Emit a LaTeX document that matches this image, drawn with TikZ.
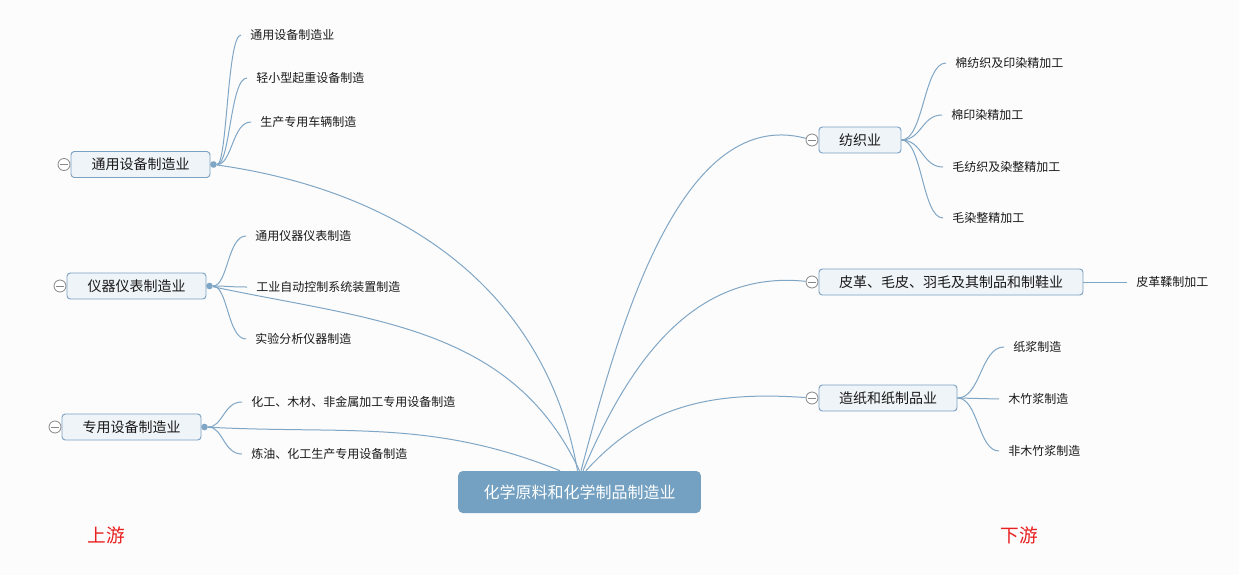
\documentclass[tikz,border=0pt]{standalone}
\usepackage{fontspec}
\usepackage{xcolor}
\usepackage{tikz}
\usetikzlibrary{arrows,calc,positioning,backgrounds}
\newfontfamily\cjk{Noto Sans CJK SC}
\definecolor{linkblue}{RGB}{128,166,198}
\definecolor{hubblue}{RGB}{116,161,193}
\definecolor{topicfill}{RGB}{239,244,248}
\definecolor{topicline}{RGB}{122,161,194}
\definecolor{foldgray}{RGB}{135,135,135}
\definecolor{paper}{RGB}{252,252,252}
\definecolor{streamred}{RGB}{232,32,32}
\tikzset{
  hubbox/.style={fill=hubblue, text=white, rounded corners=3.5pt, minimum width=182pt, minimum height=31.5pt, font=\cjk\fontsize{12}{12}\selectfont},
  topic/.style={draw=topicline, fill=topicfill, rounded corners=2.5pt, minimum height=19.5pt, line width=0.7pt, text=black!90, font=\cjk\fontsize{10.5}{10.5}\selectfont},
  leaf/.style={anchor=west, inner xsep=6.75pt, inner ysep=2pt, text=black!90, font=\cjk\fontsize{9}{9}\selectfont},
  branch/.style={draw=linkblue, line width=0.75pt},
  fold/.style={circle, draw=foldgray, fill=white, line width=0.6pt, minimum size=9pt, inner sep=0pt,
    path picture={\draw[foldgray, line width=0.6pt] ([xshift=-2.7pt]path picture bounding box.center) -- ([xshift=2.7pt]path picture bounding box.center);}},
  knot/.style={circle, fill=linkblue, minimum size=5pt, inner sep=0pt},
  stream/.style={text=streamred, font=\cjk\fontsize{14}{14}\selectfont}
}
\newcommand{\topicat}[4]{\node[topic,minimum width=#3] (#1) at #2 {#4};}
\newcommand{\leafat}[3]{\node[leaf] (#1) at #2 {#3};}
\newcommand{\foldat}[2]{\node[fold] (#1) at #2 {};}
\newcommand{\knotat}[2]{\node[knot] (#1) at #2 {};}
\newcommand{\connect}[3][]{\draw[branch,#1] (#2) to (#3);}
\newcommand{\twig}[2]{\draw[branch] (#1) .. controls ($(#1)!.5!(#1 -| #2)$) and ($(#1 |- #2)!.5!(#2)$) .. (#2);}

\begin{document}
\begin{tikzpicture}[x=0.75pt,y=0.75pt]
        \fill[paper] (0,0) rectangle (1239,-575);
        \node[hubbox] (hub) at (579.5,-492) {化学原料和化学制品制造业};
        % upstream side
        \topicat{gen}{(140.5,-164.5)}{104.25pt}{通用设备制造业}
        \topicat{ins}{(136.5,-286)}{104.25pt}{仪器仪表制造业}
        \topicat{spe}{(131.5,-427)}{104.25pt}{专用设备制造业}
        \foldat{gf}{(64,-164.5)}
        \foldat{if}{(60,-286)}
        \foldat{sf}{(55,-427)}
        \knotat{gk}{(213.5,-164.5)}
        \knotat{ik}{(209.5,-286)}
        \knotat{sk}{(204.5,-427)}
        % downstream side
        \topicat{tex}{(860,-140)}{61.5pt}{纺织业}
        \topicat{lea}{(951,-282)}{198pt}{皮革、毛皮、羽毛及其制品和制鞋业}
        \topicat{pap}{(888,-398)}{103.5pt}{造纸和纸制品业}
        \foldat{tf}{(812,-140)}
        \foldat{lf}{(812,-282)}
        \foldat{pf}{(812,-398)}
        % hub links
        \connect[out=100,in=-8]{$(hub.north)+(-2,0)$}{gk}
        \connect[out=115,in=-12]{$(hub.north)+(0,0)$}{ik}
        \connect[out=158,in=-3]{$(hub.north)+(-19.5,0)$}{sk}
        \connect[out=75,in=165,looseness=0.85]{$(hub.north)+(1.5,0)$}{tf}
        \connect[out=67,in=174]{$(hub.north)+(3.5,0)$}{lf}
        \connect[out=48,in=176]{$(hub.north)+(6.5,0)$}{pf}
        % leaves
        \leafat{l11}{(241,-35)}{通用设备制造业}
        \leafat{l12}{(247,-78)}{轻小型起重设备制造}
        \leafat{l13}{(251,-122)}{生产专用车辆制造}
        \leafat{l21}{(246,-236)}{通用仪器仪表制造}
        \leafat{l22}{(247,-287)}{工业自动控制系统装置制造}
        \leafat{l23}{(246,-339)}{实验分析仪器制造}
        \leafat{l31}{(242,-402)}{化工、木材、非金属加工专用设备制造}
        \leafat{l32}{(242,-454)}{炼油、化工生产专用设备制造}
        \leafat{r11}{(946,-63)}{棉纺织及印染精加工}
        \leafat{r12}{(942,-115)}{棉印染精加工}
        \leafat{r13}{(943,-167)}{毛纺织及染整精加工}
        \leafat{r14}{(943,-218)}{毛染整精加工}
        \leafat{r21}{(1127,-282)}{皮革鞣制加工}
        \leafat{r31}{(1004,-347)}{纸浆制造}
        \leafat{r32}{(999,-399)}{木竹浆制造}
        \leafat{r33}{(999,-451)}{非木竹浆制造}
        \twig{gk}{l11.west}
        \twig{gk}{l12.west}
        \twig{gk}{l13.west}
        \twig{ik}{l21.west}
        \twig{ik}{l22.west}
        \twig{ik}{l23.west}
        \twig{sk}{l31.west}
        \twig{sk}{l32.west}
        \twig{tex.east}{r11.west}
        \twig{tex.east}{r12.west}
        \twig{tex.east}{r13.west}
        \twig{tex.east}{r14.west}
        \twig{lea.east}{r21.west}
        \twig{pap.east}{r31.west}
        \twig{pap.east}{r32.west}
        \twig{pap.east}{r33.west}
        % stream labels
        \node[stream] (up) at (106,-535) {上游};
        \node[stream] (down) at (1019,-535) {下游};
    \end{tikzpicture}
\end{document}
